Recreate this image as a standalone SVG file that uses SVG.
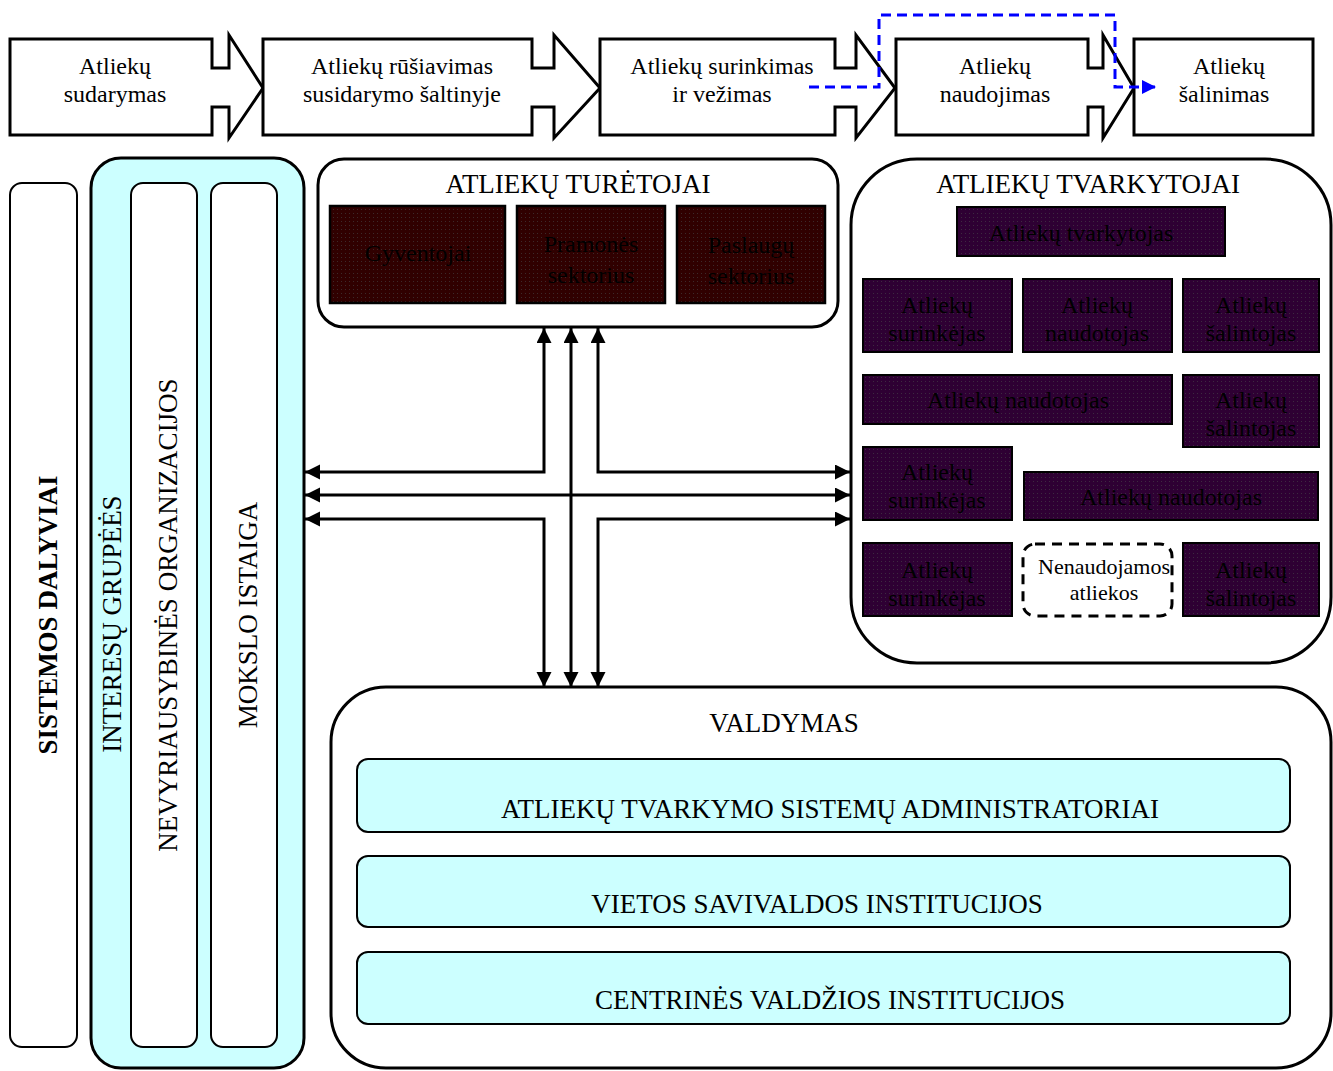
<svg xmlns="http://www.w3.org/2000/svg" width="1333" height="1071" viewBox="0 0 1333 1071">
<style>
  text { font-family: "Liberation Serif", "Times New Roman", serif; fill: #000; }
  .proc { fill: #fff; stroke: #000; stroke-width: 3; stroke-linejoin: miter; }
  .t24 { font-size: 24px; text-anchor: middle; }
  .t26 { font-size: 27px; text-anchor: middle; }
  .t22 { font-size: 22px; text-anchor: middle; }
  .big { fill: #fff; stroke: #000; stroke-width: 3; }
  .col { fill: #fff; stroke: #000; stroke-width: 2; }
  .cyan { fill: #ccffff; stroke: #000; stroke-width: 2; }
  .red { fill: url(#pRed); stroke: #000; stroke-width: 2.5; }
  .pur { fill: url(#pPur); stroke: #000; stroke-width: 2; }
  .conn { fill: none; stroke: #000; stroke-width: 3; marker-start: url(#ah); marker-end: url(#ah); }
</style>
<defs>
  <marker id="ah" markerWidth="16" markerHeight="16" refX="15" refY="7.5" orient="auto-start-reverse" markerUnits="userSpaceOnUse">
    <path d="M0,0 L15,7.5 L0,15 z" fill="#000"/>
  </marker>
  <marker id="ahBlue" markerWidth="16" markerHeight="16" refX="14" refY="7" orient="auto" markerUnits="userSpaceOnUse">
    <path d="M0,0 L14,7 L0,14 z" fill="#0000ff"/>
  </marker>
  <pattern id="pRed" width="4" height="4" patternUnits="userSpaceOnUse">
    <rect width="4" height="4" fill="#300000"/>
    <rect x="1" y="1" width="1" height="1" fill="#3d2a2a"/>
  </pattern>
  <pattern id="pPur" width="4" height="4" patternUnits="userSpaceOnUse">
    <rect width="4" height="4" fill="#2e0033"/>
    <rect x="1" y="1" width="1" height="1" fill="#3d2a40"/>
  </pattern>
</defs>

<!-- Process chain -->
<g id="proc1">
  <polygon class="proc" points="10,39 212,39 212,68 229,68 229,35 263,88 229,138 229,107 212,107 212,135 10,135"/>
  <text class="t24" x="115" y="74">Atliekų</text>
  <text class="t24" x="115" y="102">sudarymas</text>
</g>
<g id="proc2">
  <polygon class="proc" points="263,39 532,39 532,68 554,68 554,35 600,88 554,138 554,107 532,107 532,135 263,135"/>
  <text class="t24" x="402" y="74">Atliekų rūšiavimas</text>
  <text class="t24" x="402" y="102">susidarymo šaltinyje</text>
</g>
<g id="proc3">
  <polygon class="proc" points="600,39 835,39 835,68 856,68 856,35 895,88 856,138 856,107 835,107 835,135 600,135"/>
  <text class="t24" x="722" y="74">Atliekų surinkimas</text>
  <text class="t24" x="722" y="102">ir vežimas</text>
</g>
<g id="proc4">
  <polygon class="proc" points="896,39 1088,39 1088,68 1103,68 1103,35 1134,88 1103,138 1103,107 1088,107 1088,135 896,135"/>
  <text class="t24" x="995" y="74">Atliekų</text>
  <text class="t24" x="995" y="102">naudojimas</text>
</g>
<g id="proc5">
  <rect class="proc" x="1134" y="39" width="179" height="96"/>
  <text class="t24" x="1229" y="74">Atliekų</text>
  <text class="t24" x="1224" y="102">šalinimas</text>
</g>

<!-- Left columns -->
<g id="sistemos">
  <rect class="col" x="10" y="183" width="67" height="864" rx="12"/>
  <text transform="translate(57,615) rotate(-90)" style="font-size:27px;font-weight:bold;text-anchor:middle">SISTEMOS DALYVIAI</text>
</g>
<g id="interesu">
  <rect x="91" y="158" width="213" height="910" rx="30" fill="#ccffff" stroke="#000" stroke-width="3"/>
  <text class="t26" transform="translate(121,624) rotate(-90)">INTERESŲ GRUPĖĖS</text>
</g>
<g id="nevyriausybines">
  <rect class="col" x="131" y="183" width="66" height="864" rx="12"/>
  <text class="t26" transform="translate(177,615) rotate(-90)">NEVYRIAUSYBINĖS ORGANIZACIJOS</text>
</g>
<g id="mokslo">
  <rect class="col" x="211" y="183" width="66" height="864" rx="12"/>
  <text class="t26" transform="translate(257,615) rotate(-90)">MOKSLO ISTAIGA</text>
</g>

<!-- Atliekų turėtojai -->
<g id="turetojai">
  <rect class="big" x="318" y="159" width="520" height="168" rx="26"/>
  <text class="t26" x="578" y="193">ATLIEKŲ TURĖTOJAI</text>
</g>
<g id="gyventojai">
  <rect class="red" x="330" y="206" width="175" height="97"/>
  <text class="t24" x="418" y="261">Gyventojai</text>
</g>
<g id="pramones">
  <rect class="red" x="517" y="206" width="148" height="97"/>
  <text class="t24" x="591" y="252">Pramonės</text>
  <text class="t24" x="591" y="283">sektorius</text>
</g>
<g id="paslaugu">
  <rect class="red" x="677" y="206" width="148" height="97"/>
  <text class="t24" x="751" y="253">Paslaugų</text>
  <text class="t24" x="751" y="284">sektorius</text>
</g>

<!-- Atliekų tvarkytojai -->
<g id="tvarkytojai">
  <rect class="big" x="851" y="159" width="480" height="504" rx="66"/>
  <text class="t26" x="1088" y="193">ATLIEKŲ TVARKYTOJAI</text>
</g>
<g id="tvarkytojas">
  <rect class="pur" x="957" y="207" width="268" height="49"/>
  <text class="t24" x="1081" y="241">Atliekų tvarkytojas</text>
</g>
<g id="surinkejas1">
  <rect class="pur" x="863" y="279" width="149" height="73"/>
  <text class="t24" x="937" y="313">Atliekų</text>
  <text class="t24" x="937" y="341">surinkėjas</text>
</g>
<g id="naudotojas1">
  <rect class="pur" x="1023" y="279" width="149" height="73"/>
  <text class="t24" x="1097" y="313">Atliekų</text>
  <text class="t24" x="1097" y="341">naudotojas</text>
</g>
<g id="salintojas1">
  <rect class="pur" x="1183" y="279" width="136" height="73"/>
  <text class="t24" x="1251" y="313">Atliekų</text>
  <text class="t24" x="1251" y="341">šalintojas</text>
</g>
<g id="naudotojas2">
  <rect class="pur" x="863" y="375" width="309" height="49"/>
  <text class="t24" x="1018" y="408">Atliekų naudotojas</text>
</g>
<g id="salintojas2">
  <rect class="pur" x="1183" y="375" width="136" height="72"/>
  <text class="t24" x="1251" y="408">Atliekų</text>
  <text class="t24" x="1251" y="436">šalintojas</text>
</g>
<g id="surinkejas2">
  <rect class="pur" x="863" y="447" width="149" height="73"/>
  <text class="t24" x="937" y="480">Atliekų</text>
  <text class="t24" x="937" y="508">surinkėjas</text>
</g>
<g id="naudotojas3">
  <rect class="pur" x="1024" y="472" width="294" height="48"/>
  <text class="t24" x="1171" y="505">Atliekų naudotojas</text>
</g>
<g id="surinkejas3">
  <rect class="pur" x="863" y="543" width="149" height="73"/>
  <text class="t24" x="937" y="578">Atliekų</text>
  <text class="t24" x="937" y="606">surinkėjas</text>
</g>
<g id="nenaudojamos">
  <rect x="1023" y="544" width="149" height="72" rx="12" fill="#fff" stroke="#000" stroke-width="3" stroke-dasharray="10,7"/>
  <text class="t22" x="1104" y="574">Nenaudojamos</text>
  <text class="t22" x="1104" y="600">atliekos</text>
</g>
<g id="salintojas3">
  <rect class="pur" x="1183" y="543" width="136" height="73"/>
  <text class="t24" x="1251" y="578">Atliekų</text>
  <text class="t24" x="1251" y="606">šalintojas</text>
</g>

<!-- Valdymas -->
<g id="valdymas">
  <rect class="big" x="331" y="687" width="1000" height="381" rx="55"/>
  <text class="t26" x="784" y="732">VALDYMAS</text>
</g>
<g id="administratoriai">
  <rect class="cyan" x="357" y="759" width="933" height="73" rx="11"/>
  <text class="t26" x="830" y="818">ATLIEKŲ TVARKYMO SISTEMŲ ADMINISTRATORIAI</text>
</g>
<g id="savivaldos">
  <rect class="cyan" x="357" y="856" width="933" height="71" rx="11"/>
  <text class="t26" x="817" y="913">VIETOS SAVIVALDOS INSTITUCIJOS</text>
</g>
<g id="centrines">
  <rect class="cyan" x="357" y="952" width="933" height="72" rx="11"/>
  <text class="t26" x="830" y="1009">CENTRINĖS VALDŽIOS INSTITUCIJOS</text>
</g>

<!-- Connectors -->
<g id="connectors">
  <path class="conn" d="M305,472 H544 V328"/>
  <path class="conn" d="M598,328 V472 H850"/>
  <path class="conn" d="M305,495 H850"/>
  <path class="conn" d="M571,328 V687"/>
  <path class="conn" d="M305,519 H544 V687"/>
  <path class="conn" d="M850,519 H598 V687"/>
  <path d="M809,87 H879 V15 H1115 V87 H1156" fill="none" stroke="#0000ff" stroke-width="3" stroke-dasharray="10,6" marker-end="url(#ahBlue)"/>
</g>
</svg>
